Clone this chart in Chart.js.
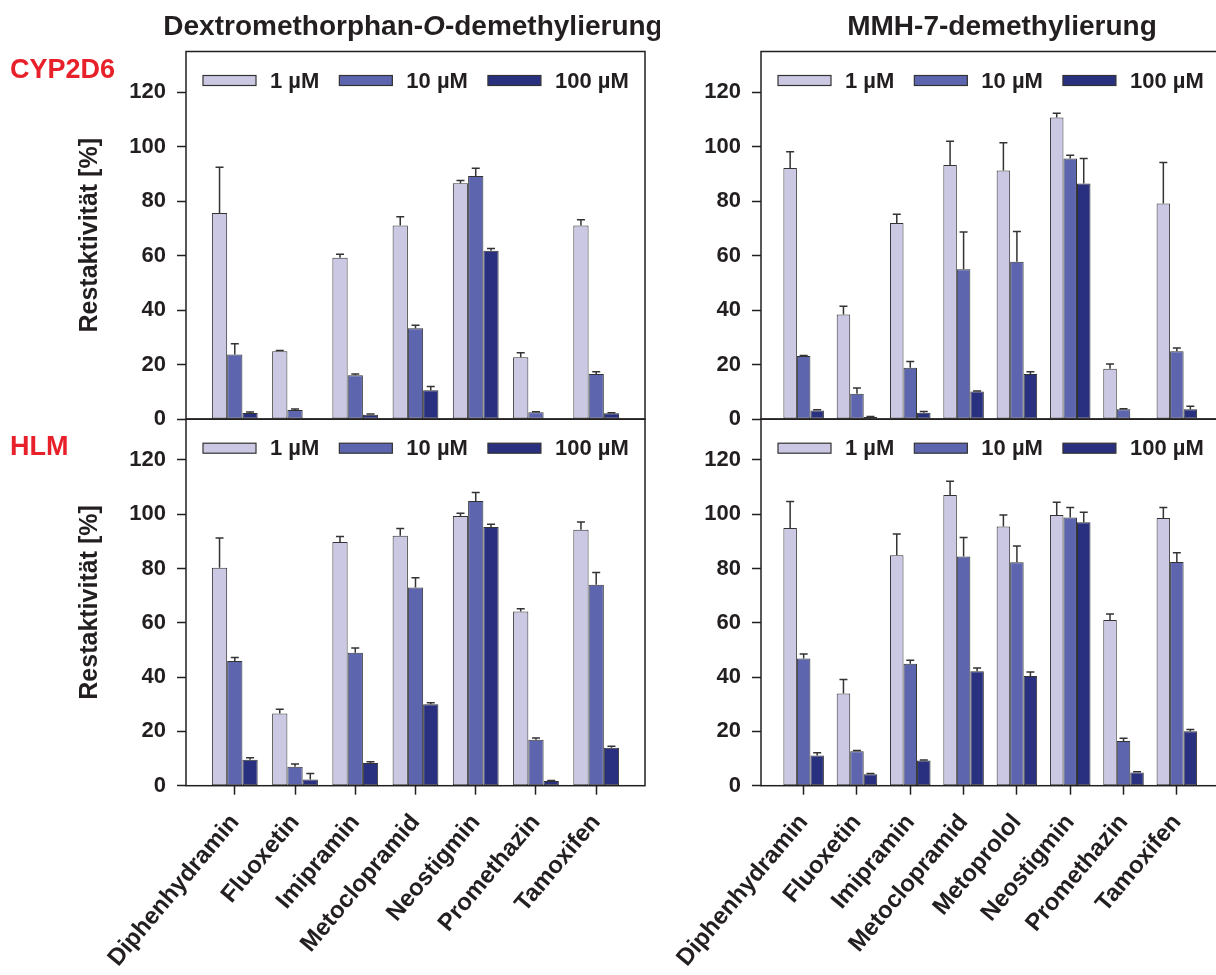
<!DOCTYPE html>
<html>
<head>
<meta charset="utf-8">
<script src="https://cdn.jsdelivr.net/npm/chart.js@4.4.1/dist/chart.umd.min.js"></script>
<style>
  html, body { margin: 0; padding: 0; background: #fff; width: 1216px; height: 975px; overflow: hidden; position: relative; }
  canvas { position: absolute; }
</style>
</head>
<body>
<canvas id="c1" width="660" height="449" style="left:0;top:0"></canvas>
<canvas id="c2" width="600" height="449" style="left:660px;top:0"></canvas>
<canvas id="c3" width="660" height="580" style="left:0;top:395px"></canvas>
<canvas id="c4" width="640" height="580" style="left:620px;top:395px"></canvas>
<script>
// Wirkstoffe
const categoriesDex = ['Diphenhydramin', 'Fluoxetin', 'Imipramin', 'Metoclopramid', 'Neostigmin', 'Promethazin', 'Tamoxifen'];
const categoriesMmh = ['Diphenhydramin', 'Fluoxetin', 'Imipramin', 'Metoclopramid', 'Metoprolol', 'Neostigmin', 'Promethazin', 'Tamoxifen'];
const concLabels = ['1 µM', '10 µM', '100 µM'];

// CYP2D6 - Dextromethorphan-O-demethylierung
const cypDex1 = [75.7, 24.9, 59.2, 71.1, 86.6, 22.7, 71.1];
const cypDex10 = [23.7, 3.3, 16.1, 33.3, 89.3, 2.5, 16.5];
const cypDex100 = [2.2, 0.4, 1.6, 10.6, 61.8, 0.1, 2.1];
const cypDexErr1 = [16.8, 0.3, 1.3, 3.2, 1.0, 1.6, 2.1];
const cypDexErr10 = [3.9, 0.4, 0.4, 1.1, 2.8, 0.2, 0.9];
const cypDexErr100 = [0.4, 0, 0.2, 1.3, 0.8, 0, 0.2];

// CYP2D6 - MMH-7-demethylierung
const cypMmh1 = [92.2, 38.4, 72.0, 93.3, 91.3, 110.8, 18.5, 79.2];
const cypMmh10 = [23.1, 9.3, 18.8, 55.0, 57.8, 95.7, 3.6, 24.9];
const cypMmh100 = [3.1, 0.7, 2.3, 10.1, 16.5, 86.5, 0.4, 3.6];
const cypMmhErr1 = [6.0, 3.0, 3.2, 8.7, 10.2, 1.5, 1.7, 15.0];
const cypMmhErr10 = [0.2, 2.1, 2.3, 13.7, 11.1, 1.2, 0.2, 1.2];
const cypMmhErr100 = [0.3, 0.2, 0.5, 0.2, 0.9, 9.2, 0, 1.1];

// HLM - Dextromethorphan-O-demethylierung
const hlmDex1 = [80.3, 26.6, 89.8, 92.1, 99.3, 64.2, 94.3];
const hlmDex10 = [45.9, 7.0, 49.0, 73.0, 104.9, 16.9, 74.0];
const hlmDex100 = [9.6, 2.3, 8.4, 30.0, 95.3, 1.7, 14.0];
const hlmDexErr1 = [10.9, 1.6, 2.0, 2.6, 1.1, 1.0, 2.8];
const hlmDexErr10 = [1.3, 1.0, 1.7, 3.6, 3.1, 0.7, 4.5];
const hlmDexErr100 = [0.7, 2.2, 0.4, 0.6, 1.0, 0.2, 0.5];

// HLM - MMH-7-demethylierung
const hlmMmh1 = [94.9, 34.0, 84.9, 107.1, 95.5, 99.7, 61.0, 98.6];
const hlmMmh10 = [46.9, 12.7, 44.9, 84.4, 82.3, 98.8, 16.5, 82.4];
const hlmMmh100 = [11.1, 4.2, 9.3, 42.2, 40.4, 97.0, 4.9, 20.1];
const hlmMmhErr1 = [9.8, 5.1, 7.8, 5.0, 4.2, 4.7, 2.2, 3.9];
const hlmMmhErr10 = [1.6, 0.3, 1.3, 7.0, 6.0, 3.7, 1.0, 3.4];
const hlmMmhErr100 = [1.0, 0.3, 0.2, 1.2, 1.5, 3.7, 0.2, 0.6];

const FONT = '"Liberation Sans", Arial, sans-serif';
const INK = '#231f20';
const barColors = ['#cac8e3', '#5d65af', '#28307f'];

// Rahmen um die Zeichenfläche
const frame = {
    id: 'frame',
    afterDraw(chart) {
        const { ctx, chartArea: a } = chart;
        ctx.save();
        ctx.strokeStyle = INK;
        ctx.lineWidth = 1.5;
        ctx.strokeRect(a.left, a.top, a.right - a.left, a.bottom - a.top);
        ctx.restore();
    }
};

// Fehlerbalken (nur nach oben)
const errorBars = {
    id: 'errorBars',
    afterDatasetsDraw(chart) {
        const ctx = chart.ctx;
        const y = chart.scales.y;
        ctx.save();
        ctx.strokeStyle = '#333';
        ctx.lineWidth = 1.5;
        chart.data.datasets.forEach((ds, di) => {
            chart.getDatasetMeta(di).data.forEach((bar, i) => {
                const err = ds.errors[i];
                if (!err) return;
                const top = y.getPixelForValue(ds.data[i].y + err);
                ctx.beginPath();
                ctx.moveTo(bar.x, bar.y);
                ctx.lineTo(bar.x, top);
                ctx.moveTo(bar.x - 4, top);
                ctx.lineTo(bar.x + 4, top);
                ctx.stroke();
            });
        });
        ctx.restore();
    }
};

// Legende innerhalb der Zeichenfläche
const innerLegend = {
    id: 'innerLegend',
    afterDatasetsDraw(chart) {
        const { ctx, chartArea: a } = chart;
        let x = a.left + 17;
        const yc = a.top + 29;
        ctx.save();
        ctx.font = 'bold 22px ' + FONT;
        ctx.textBaseline = 'middle';
        chart.data.datasets.forEach(ds => {
            ctx.fillStyle = ds.backgroundColor;
            ctx.fillRect(x, yc - 5, 53, 10);
            ctx.strokeStyle = '#333';
            ctx.lineWidth = 1.2;
            ctx.strokeRect(x, yc - 5, 53, 10);
            x += 53 + 14;
            ctx.fillStyle = INK;
            ctx.fillText(ds.label, x, yc + 1);
            x += ctx.measureText(ds.label).width + 20;
        });
        ctx.restore();
    }
};

// Überschriften und seitliche Beschriftung
const panelText = {
    id: 'panelText',
    afterDraw(chart, args, opts) {
        const ctx = chart.ctx;
        ctx.save();
        ctx.textBaseline = 'alphabetic';
        if (opts.title) {
            const parts = opts.title.map(p => ({
                text: p.text,
                font: (p.italic ? 'italic ' : '') + 'bold 28px ' + FONT
            }));
            let total = 0;
            parts.forEach(p => { ctx.font = p.font; p.w = ctx.measureText(p.text).width; total += p.w; });
            let x = opts.titleX - total / 2;
            ctx.fillStyle = INK;
            parts.forEach(p => { ctx.font = p.font; ctx.fillText(p.text, x, opts.titleY); x += p.w; });
        }
        if (opts.side) {
            ctx.font = 'bold 27px ' + FONT;
            ctx.fillStyle = '#e8202a';
            ctx.fillText(opts.side, opts.sideX, opts.sideY);
        }
        ctx.restore();
    }
};

function makePanel(id, cats, values, errors, cfg) {
    const datasets = values.map((vals, k) => ({
        label: concLabels[k],
        data: vals.map((v, i) => ({ x: i, y: v })),
        errors: errors[k],
        backgroundColor: barColors[k],
        borderColor: '#333',
        borderWidth: 1,
        borderSkipped: false,
        categoryPercentage: 0.76,
        barPercentage: 1.0
    }));

    const xAxis = {
        type: 'linear',
        min: -cfg.side,
        max: cats.length - 1 + cfg.side,
        offset: false,
        afterBuildTicks: s => { s.ticks = s.ticks.filter(t => Number.isInteger(t.value)); },
        afterFit: s => { s.height = cfg.xHeight; },
        border: { display: false },
        grid: { display: cfg.showCats, offset: false, drawOnChartArea: false, drawTicks: true, tickLength: 9, tickWidth: 1.5, tickColor: INK },
        ticks: {
            display: cfg.showCats,
            stepSize: 1,
            autoSkip: false,
            minRotation: 50,
            maxRotation: 50,
            padding: 14,
            color: INK,
            font: { family: FONT, size: 24, weight: 'bold' },
            callback: v => cats[v]
        }
    };

    const yAxis = {
        min: 0,
        max: 135,
        afterBuildTicks: s => { s.ticks = s.ticks.filter(t => t.value <= 120); },
        afterFit: s => { s.width = cfg.yWidth; },
        border: { display: false },
        grid: { drawOnChartArea: false, drawTicks: true, tickLength: 9, tickWidth: 1.5, tickColor: INK },
        ticks: { stepSize: 20, padding: 11, color: INK, font: { family: FONT, size: 22, weight: 'bold' } },
        title: {
            display: cfg.yTitle,
            text: 'Restaktivität [%]',
            color: INK,
            font: { family: FONT, size: 25, weight: 'bold' },
            padding: { top: 75.5, bottom: 0 }
        }
    };

    return new Chart(document.getElementById(id), {
        type: 'bar',
        data: { datasets },
        options: {
            responsive: false,
            animation: false,
            layout: { padding: cfg.padding },
            plugins: {
                legend: { display: false },
                tooltip: { enabled: false },
                panelText: cfg.text || {}
            },
            scales: { x: xAxis, y: yAxis }
        },
        plugins: [errorBars, innerLegend, frame, panelText]
    });
}

makePanel('c1', categoriesDex,
    [cypDex1, cypDex10, cypDex100], [cypDexErr1, cypDexErr10, cypDexErr100],
    { side: 0.81, showCats: false, xHeight: 30, yWidth: 186, yTitle: true,
      padding: { left: 0, right: 15, top: 51.5, bottom: 0 },
      text: { title: [{ text: 'Dextromethorphan-' }, { text: 'O', italic: true }, { text: '-demethylierung' }],
              titleX: 413, titleY: 35, side: 'CYP2D6', sideX: 10, sideY: 78 } });

makePanel('c2', categoriesMmh,
    [cypMmh1, cypMmh10, cypMmh100], [cypMmhErr1, cypMmhErr10, cypMmhErr100],
    { side: 0.8, showCats: false, xHeight: 30, yWidth: 101, yTitle: false,
      padding: { left: 0, right: 40.5, top: 51.5, bottom: 0 },
      text: { title: [{ text: 'MMH-7-demethylierung' }], titleX: 342, titleY: 35 } });

makePanel('c3', categoriesDex,
    [hlmDex1, hlmDex10, hlmDex100], [hlmDexErr1, hlmDexErr10, hlmDexErr100],
    { side: 0.81, showCats: true, xHeight: 189.3, yWidth: 186, yTitle: true,
      padding: { left: 0, right: 15, top: 23.3, bottom: 0 },
      text: { side: 'HLM', sideX: 10, sideY: 60 } });

makePanel('c4', categoriesMmh,
    [hlmMmh1, hlmMmh10, hlmMmh100], [hlmMmhErr1, hlmMmhErr10, hlmMmhErr100],
    { side: 0.8, showCats: true, xHeight: 189.3, yWidth: 141, yTitle: false,
      padding: { left: 0, right: 40.5, top: 23.3, bottom: 0 } });
</script>
</body>
</html>
